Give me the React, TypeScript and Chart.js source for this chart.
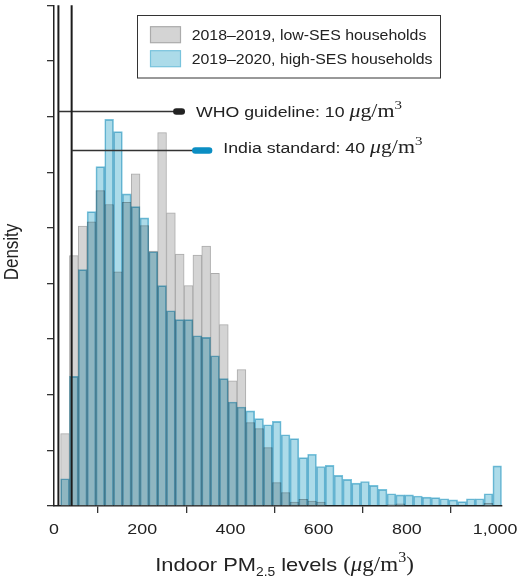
import React, { useEffect, useRef } from "react";
import { Chart, registerables } from "chart.js";
Chart.register(...registerables);

// ---- data ----
const binCenters = [25, 45, 65, 85, 105, 125, 145, 165, 185, 205, 225, 245, 265, 285, 305, 325, 345, 365, 385, 405, 425, 445, 465, 485, 505, 525, 545, 565, 585, 605, 625, 645, 665, 685, 705, 725, 745, 765, 785, 805, 825, 845, 865, 885, 905, 925, 945, 965, 985, 1005];

const lowSES = [1.30, 4.50, 5.03, 5.11, 5.67, 5.42, 4.21, 5.46, 5.97, 5.04, 4.58, 6.71, 5.27, 4.53, 3.96, 4.51, 4.67, 4.18, 3.26, 2.25, 2.45, 1.50, 1.39, 1.05, 0.42, 0.24, 0.07, 0.12, 0.09, 0.07, 0, 0, 0, 0, 0, 0, 0, 0.02, 0.04, 0, 0, 0, 0, 0, 0, 0, 0, 0, 0.05, 0];

const highSES = [0.49, 2.33, 4.25, 5.29, 6.10, 6.95, 6.73, 5.61, 5.38, 5.18, 4.57, 3.96, 3.51, 3.35, 3.35, 3.06, 3.03, 2.70, 2.29, 1.87, 1.78, 1.71, 1.57, 1.46, 1.52, 1.28, 1.21, 0.87, 0.93, 0.71, 0.73, 0.55, 0.48, 0.41, 0.44, 0.37, 0.30, 0.22, 0.20, 0.20, 0.18, 0.16, 0.15, 0.13, 0.11, 0.08, 0.13, 0.13, 0.22, 0.72];

const seriesLabels = ["2018\u20132019, low-SES households", "2019\u20132020, high-SES households"];

const xTickValues = [0, 200, 400, 600, 800, 1000];
const yTickValues = [0, 1, 2, 3, 4, 5, 6, 7, 8, 9];
const xMin = 0;
const xMax = 1015;
const yMax = 9;

const guideValues = [10, 40];
const guideLabels = ["WHO guideline: 10", "India standard: 40"];
const guideArrowY = [7.09, 6.39];
const guidePillFrom = [270, 313];
const guidePillTo = [297, 359];
const guidePillColors = ["#222222", "#0b8ec3"];

// ---- styles ----
const SANS = "'Liberation Sans', Arial, Helvetica, sans-serif";
const SERIF = "'Liberation Serif', 'Times New Roman', serif";
const SX = 1.15;
const INK = "#222222";

const grayFill = "#d4d4d4";
const grayEdge = "#ababab";
const blueFill = "#acdbe9";
const blueEdge = "#78c3dc";

type Run = { t: string; font: string; dy?: number };

function runsWidth(ctx: CanvasRenderingContext2D, runs: Run[]) {
  let w = 0;
  for (const r of runs) {
    ctx.font = r.font;
    w += ctx.measureText(r.t).width * SX;
  }
  return w;
}

function drawRuns(ctx: CanvasRenderingContext2D, runs: Run[], x: number, y: number, align: "left" | "center") {
  const total = runsWidth(ctx, runs);
  let cx = align === "center" ? x - total / 2 : x;
  ctx.save();
  ctx.fillStyle = INK;
  ctx.textBaseline = "alphabetic";
  ctx.textAlign = "left";
  for (const r of runs) {
    ctx.font = r.font;
    const w = ctx.measureText(r.t).width * SX;
    ctx.save();
    ctx.translate(cx, y + (r.dy || 0));
    ctx.scale(SX, 1);
    ctx.fillText(r.t, 0, 0);
    ctx.restore();
    cx += w;
  }
  ctx.restore();
}

function unitRuns(size: number): Run[] {
  return [
    { t: "\u03bc", font: `italic ${size}px ${SERIF}` },
    { t: "g/m", font: `${size}px ${SERIF}` },
    { t: "3", font: `${Math.round(size * 0.68)}px ${SERIF}`, dy: -size * 0.42 },
  ];
}

const multiplyPlugin = {
  id: "multiplyBlue",
  beforeDatasetDraw(chart: any, args: any) {
    if (args.index === 1) {
      chart.ctx.save();
      chart.ctx.globalCompositeOperation = "multiply";
    }
  },
  afterDatasetDraw(chart: any, args: any) {
    if (args.index === 1) chart.ctx.restore();
  },
};

const decorPlugin = {
  id: "decor",
  afterDatasetsDraw(chart: any) {
    const ctx: CanvasRenderingContext2D = chart.ctx;
    const xs = chart.scales.x;
    const ys = chart.scales.y;
    const area = chart.chartArea;
    ctx.save();
    guideValues.forEach((v, i) => {
      const px = xs.getPixelForValue(v);
      const py = ys.getPixelForValue(guideArrowY[i]);
      const p0 = xs.getPixelForValue(guidePillFrom[i]);
      const p1 = xs.getPixelForValue(guidePillTo[i]);
      // vertical guideline
      ctx.strokeStyle = "#1c1c1c";
      ctx.lineWidth = 2;
      ctx.beginPath();
      ctx.moveTo(px, area.top);
      ctx.lineTo(px, area.bottom);
      ctx.stroke();
      // horizontal pointer
      ctx.strokeStyle = "#333333";
      ctx.lineWidth = 1.6;
      ctx.beginPath();
      ctx.moveTo(px, py);
      ctx.lineTo(p0 + 2, py);
      ctx.stroke();
      // pill
      const h = 6.5;
      ctx.fillStyle = guidePillColors[i];
      ctx.beginPath();
      (ctx as any).roundRect(p0, py - h / 2, p1 - p0, h, h / 2);
      ctx.fill();
      // label
      const runs: Run[] = [{ t: guideLabels[i] + " ", font: `15.4px ${SANS}` }, ...unitRuns(19)];
      drawRuns(ctx, runs, p1 + 11, py + (i === 0 ? 5.6 : 2), "left");
    });
    ctx.restore();
  },
  afterDraw(chart: any) {
    const ctx: CanvasRenderingContext2D = chart.ctx;
    const xs = chart.scales.x;
    const area = chart.chartArea;
    // x tick labels
    xTickValues.forEach((v) => {
      const label = v.toLocaleString("en-US");
      drawRuns(ctx, [{ t: label, font: `15.5px ${SANS}` }], xs.getPixelForValue(v), area.bottom + 28, "center");
    });
    // x axis title
    const titleRuns: Run[] = [
      { t: "Indoor PM", font: `19px ${SANS}` },
      { t: "2.5", font: `12px ${SANS}`, dy: 5 },
      { t: " levels ", font: `19px ${SANS}` },
      { t: "(", font: `20px ${SERIF}` },
      ...unitRuns(20),
      { t: ")", font: `20px ${SERIF}` },
    ];
    drawRuns(ctx, titleRuns, 284.5, area.bottom + 64.7, "center");
    // y axis title
    ctx.save();
    ctx.translate(18.3, 252);
    ctx.rotate(-Math.PI / 2);
    ctx.scale(1, SX);
    ctx.font = `17px ${SANS}`;
    ctx.fillStyle = INK;
    ctx.textAlign = "center";
    ctx.textBaseline = "alphabetic";
    ctx.fillText("Density", 0, 0);
    ctx.restore();
    // legend
    ctx.save();
    const lx = 137.5, ly = 15.5, lw = 303, lh = 62.5;
    ctx.fillStyle = "#ffffff";
    ctx.fillRect(lx, ly, lw, lh);
    ctx.strokeStyle = "#333333";
    ctx.lineWidth = 1;
    ctx.strokeRect(lx, ly, lw, lh);
    const fills = [grayFill, blueFill];
    const edges = [grayEdge, blueEdge];
    seriesLabels.forEach((lab, i) => {
      const cy = 34.7 + i * 24;
      ctx.fillStyle = fills[i];
      ctx.fillRect(150.5, cy - 8, 30, 16);
      ctx.strokeStyle = edges[i];
      ctx.lineWidth = 1.2;
      ctx.strokeRect(150.5, cy - 8, 30, 16);
      drawRuns(ctx, [{ t: lab, font: `13.8px ${SANS}` }], 191.7, cy + 4.9, "left");
    });
    ctx.restore();
  },
};

export default function App() {
  const ref = useRef<HTMLCanvasElement | null>(null);
  useEffect(() => {
    if (!ref.current) return;
    const chart = new Chart(ref.current, {
      type: "bar",
      data: {
        datasets: [
          {
            label: seriesLabels[0],
            data: binCenters.map((x, i) => ({ x, y: lowSES[i] > 0 ? lowSES[i] : null })) as any,
            backgroundColor: grayFill,
            borderColor: grayEdge,
            borderWidth: 1,
            order: 2,
            grouped: false,
            barPercentage: 1,
            categoryPercentage: 1,
          } as any,
          {
            label: seriesLabels[1],
            data: binCenters.map((x, i) => ({ x, y: highSES[i] > 0 ? highSES[i] : null })) as any,
            backgroundColor: blueFill,
            borderColor: blueEdge,
            borderWidth: 1,
            order: 1,
            grouped: false,
            barPercentage: 1,
            categoryPercentage: 1,
          } as any,
        ],
      },
      options: {
        animation: false,
        responsive: false,
        maintainAspectRatio: false,
        layout: { padding: { left: 0, right: 24.3, top: 5.3, bottom: 0 } },
        plugins: { legend: { display: false }, tooltip: { enabled: false } },
        scales: {
          x: {
            type: "linear",
            min: xMin,
            max: xMax,
            offset: false,
            z: 1,
            afterBuildTicks: (s: any) => {
              s.ticks = xTickValues.map((v) => ({ value: v }));
            },
            afterFit: (s: any) => {
              s.height = 75;
            },
            ticks: { display: false },
            grid: { display: true, drawOnChartArea: false, drawTicks: true, tickLength: 7, color: "#333333", lineWidth: 1.3 },
            border: { display: true, color: "#222222", width: 1.5 },
          },
          y: {
            type: "linear",
            min: 0,
            max: yMax,
            z: 1,
            afterBuildTicks: (s: any) => {
              s.ticks = yTickValues.map((v) => ({ value: v }));
            },
            afterFit: (s: any) => {
              s.width = 54;
            },
            ticks: { display: false },
            grid: { display: true, drawOnChartArea: false, drawTicks: true, tickLength: 7, color: "#333333", lineWidth: 1.3 },
            border: { display: true, color: "#222222", width: 1.5 },
          },
        },
      } as any,
      plugins: [multiplyPlugin, decorPlugin],
    });
    return () => chart.destroy();
  }, []);
  return (
    <div style={{ position: "absolute", left: 0, top: 0, width: 526, height: 581, background: "#ffffff" }}>
      <canvas ref={ref} width={526} height={581} style={{ display: "block" }} />
    </div>
  );
}
